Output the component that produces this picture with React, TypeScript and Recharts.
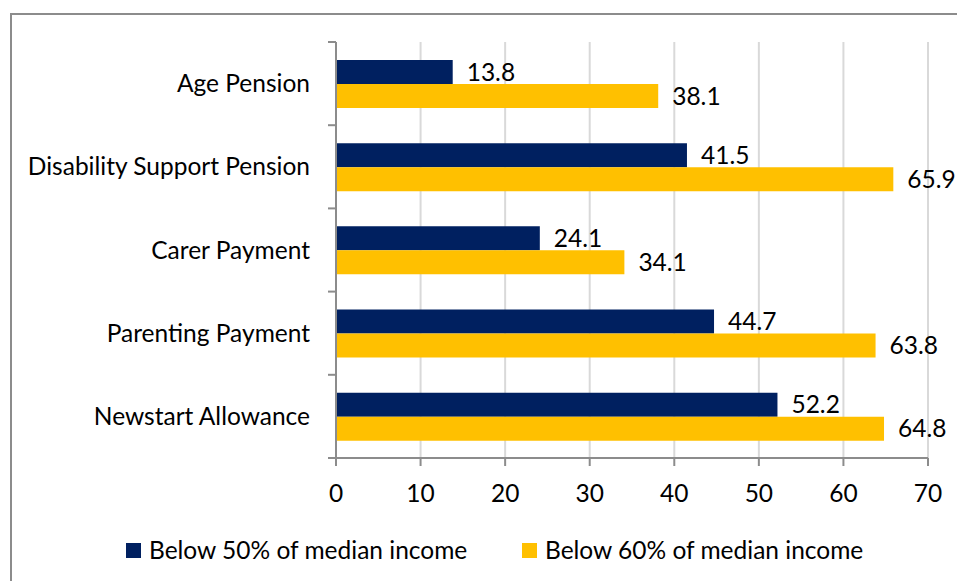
import React from 'react';
import { BarChart, Bar, XAxis, YAxis, CartesianGrid, Legend, LabelList } from 'recharts';

const categories = ['Age Pension', 'Disability Support Pension', 'Carer Payment', 'Parenting Payment', 'Newstart Allowance'];
const below50 = [13.8, 41.5, 24.1, 44.7, 52.2];
const below60 = [38.1, 65.9, 34.1, 63.8, 64.8];
const xTicks = [0, 10, 20, 30, 40, 50, 60, 70];

const SERIES = [
    { key: 'below50', name: 'Below 50% of median income', color: '#002060' },
    { key: 'below60', name: 'Below 60% of median income', color: '#FFC000' },
];

const FONT = 'Lato, "Open Sans", sans-serif';
const FS = 24.5;
const W = 957;
const H = 581;
const PLOT_LEFT = 336;
const PLOT_TOP = 42;
const PLOT_BOTTOM = 458;
const AXIS_COLOR = '#8c8c8c';

const data = categories.map((name, i) => ({ name, below50: below50[i], below60: below60[i] }));

const CategoryTick = (props: any) => {
    const { x, y, payload, index } = props;
    const half = (PLOT_BOTTOM - PLOT_TOP) / categories.length / 2;
    return (
        <g>
            <text x={x} y={y} dy="0.355em" textAnchor="end" fontSize={FS} fontFamily={FONT} fill="#000">
                {payload.value}
            </text>
            <line x1={PLOT_LEFT - 8} x2={PLOT_LEFT} y1={y - half} y2={y - half} stroke={AXIS_COLOR} strokeWidth={2} />
            {index === categories.length - 1 && (
                <line x1={PLOT_LEFT - 8} x2={PLOT_LEFT} y1={y + half} y2={y + half} stroke={AXIS_COLOR} strokeWidth={2} />
            )}
        </g>
    );
};

const renderLegend = () => (
    <div style={{ position: 'relative', height: 30, fontFamily: FONT, fontSize: FS, color: '#000' }}>
        {SERIES.map((s, i) => (
            <div key={s.key} style={{ position: 'absolute', left: i === 0 ? 126 : 522, top: 0, display: 'flex', alignItems: 'center', whiteSpace: 'nowrap' }}>
                <span style={{ display: 'inline-block', width: 15, height: 15, background: s.color, marginRight: 8 }} />
                <span style={{ lineHeight: '30px' }}>{s.name}</span>
            </div>
        ))}
    </div>
);

const App: React.FC = () => {
    return (
        <div style={{ position: 'fixed', left: 0, top: 0, width: W, height: H, overflow: 'hidden', background: '#fff' }}>
            <div style={{ position: 'absolute', left: 10, top: 13, width: 1200, height: 1000, border: `2px solid ${AXIS_COLOR}`, boxSizing: 'border-box' }} />
            <div style={{ position: 'absolute', left: 0, top: 0 }}>
                <BarChart
                    width={W}
                    height={H}
                    data={data}
                    layout="vertical"
                    margin={{ top: PLOT_TOP, right: 29, left: 0, bottom: H - PLOT_BOTTOM - 40 }}
                    barCategoryGap="21.6%"
                    barGap={0}
                >
                    <CartesianGrid horizontal={false} stroke="#d9d9d9" strokeWidth={2} />
                    <XAxis
                        type="number"
                        domain={[0, 70]}
                        ticks={xTicks}
                        interval={0}
                        height={40}
                        axisLine={{ stroke: AXIS_COLOR, strokeWidth: 2 }}
                        tickLine={{ stroke: AXIS_COLOR, strokeWidth: 2 }}
                        tickSize={8}
                        tickMargin={19}
                        tick={{ fontSize: FS, fontFamily: FONT, fill: '#000' }}
                    />
                    <YAxis
                        type="category"
                        dataKey="name"
                        width={PLOT_LEFT}
                        axisLine={{ stroke: AXIS_COLOR, strokeWidth: 2 }}
                        tickLine={false}
                        tickSize={8}
                        tickMargin={18}
                        interval={0}
                        tick={<CategoryTick />}
                    />
                    <Legend
                        layout="horizontal"
                        verticalAlign="middle"
                        align="center"
                        wrapperStyle={{ top: 535, left: 0, width: W }}
                        content={renderLegend}
                    />
                    {SERIES.map((s) => (
                        <Bar key={s.key} dataKey={s.key} name={s.name} fill={s.color} isAnimationActive={false}>
                            <LabelList
                                dataKey={s.key}
                                position="right"
                                offset={14}
                                fontSize={FS}
                                fontFamily={FONT}
                                fill="#000"
                                formatter={(v: any) => Number(v).toFixed(1)}
                            />
                        </Bar>
                    ))}
                </BarChart>
            </div>
        </div>
    );
};

export default App;
